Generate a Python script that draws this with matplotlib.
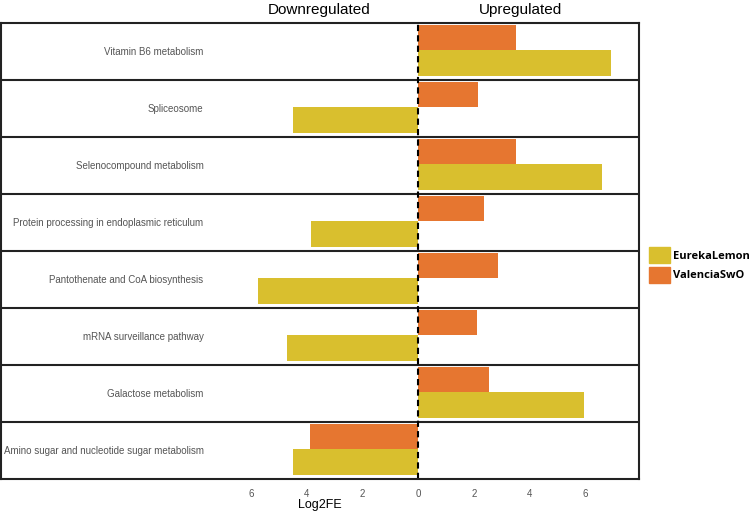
import numpy as np
import matplotlib.pyplot as plt
import matplotlib.ticker as mticker
from matplotlib.patches import Patch

# ------------------------------------------------------------------
# data (top to bottom)
# ------------------------------------------------------------------
pathways = ['Vitamin B6 metabolism', 'Spliceosome', 'Selenocompound metabolism',
            'Protein processing in endoplasmic reticulum',
            'Pantothenate and CoA biosynthesis', 'mRNA surveillance pathway',
            'Galactose metabolism', 'Amino sugar and nucleotide sugar metabolism']
eureka   = [6.9, -4.5, 6.6, -3.85, -5.75, -4.7, 5.95, -4.5]
valencia = [3.5, 2.15, 3.5, 2.35, 2.85, 2.1, 2.55, -3.9]
ticks = [-6, -4, -2, 0, 2, 4, 6]

YELLOW, ORANGE = '#D9BF2E', '#E67630'

fig = plt.figure(figsize=(7.5, 5.13), dpi=100)
ax = fig.add_axes([1 / 750, (513 - 479.3) / 513, 638.3 / 750, 456 / 513])

pos = np.arange(len(pathways))
ax.barh(pos + 0.249, valencia, height=0.449, color=ORANGE)
ax.barh(pos + 0.696, eureka, height=0.446, color=YELLOW)

ax.set_xlim(-14.96, 7.92)
ax.set_ylim(len(pathways), 0)

for i in range(1, len(pathways)):
    ax.axhline(i, color='#222222', lw=1.5)
ax.axvline(0, color='black', lw=1.5, ls=(0, (3, 2)))

for i, name in enumerate(pathways):
    ax.text(-7.7, i + 0.5, name, ha='right', va='center',
            fontsize=7, color='#555555', family='Liberation Sans')

for s in ax.spines.values():
    s.set_linewidth(1.5)
    s.set_color('#222222')

ax.set_yticks([])
ax.set_xticks(ticks)
ax.xaxis.set_major_formatter(mticker.FuncFormatter(lambda x, _: f'{abs(x):.0f}'))
ax.tick_params(axis='x', length=0, labelsize=7, labelcolor='#555555', pad=7)
for lab in ax.get_xticklabels():
    lab.set_family('Liberation Sans')
ax.set_xlabel('Log2FE', fontsize=9, family='Liberation Sans', labelpad=0)

fig.text(319 / 750, 1 - 10 / 513, 'Downregulated', ha='center', va='center',
         fontsize=11, family='Liberation Sans')
fig.text(521 / 750, 1 - 10 / 513, 'Upregulated', ha='center', va='center',
         fontsize=11, family='Liberation Sans')

handles = [Patch(color=YELLOW, label='EurekaLemon'),
           Patch(color=ORANGE, label='ValenciaSwO')]
fig.legend(handles=handles, loc='center left', bbox_to_anchor=(641 / 750, 1 - 265 / 513),
           frameon=False, handlelength=1.9, handleheight=1.9, handletextpad=0.25,
           labelspacing=0.28, borderpad=0.2,
           prop={'family': 'Open Sans', 'weight': 'bold', 'size': 8})

fig.savefig('out.png', dpi=100)
